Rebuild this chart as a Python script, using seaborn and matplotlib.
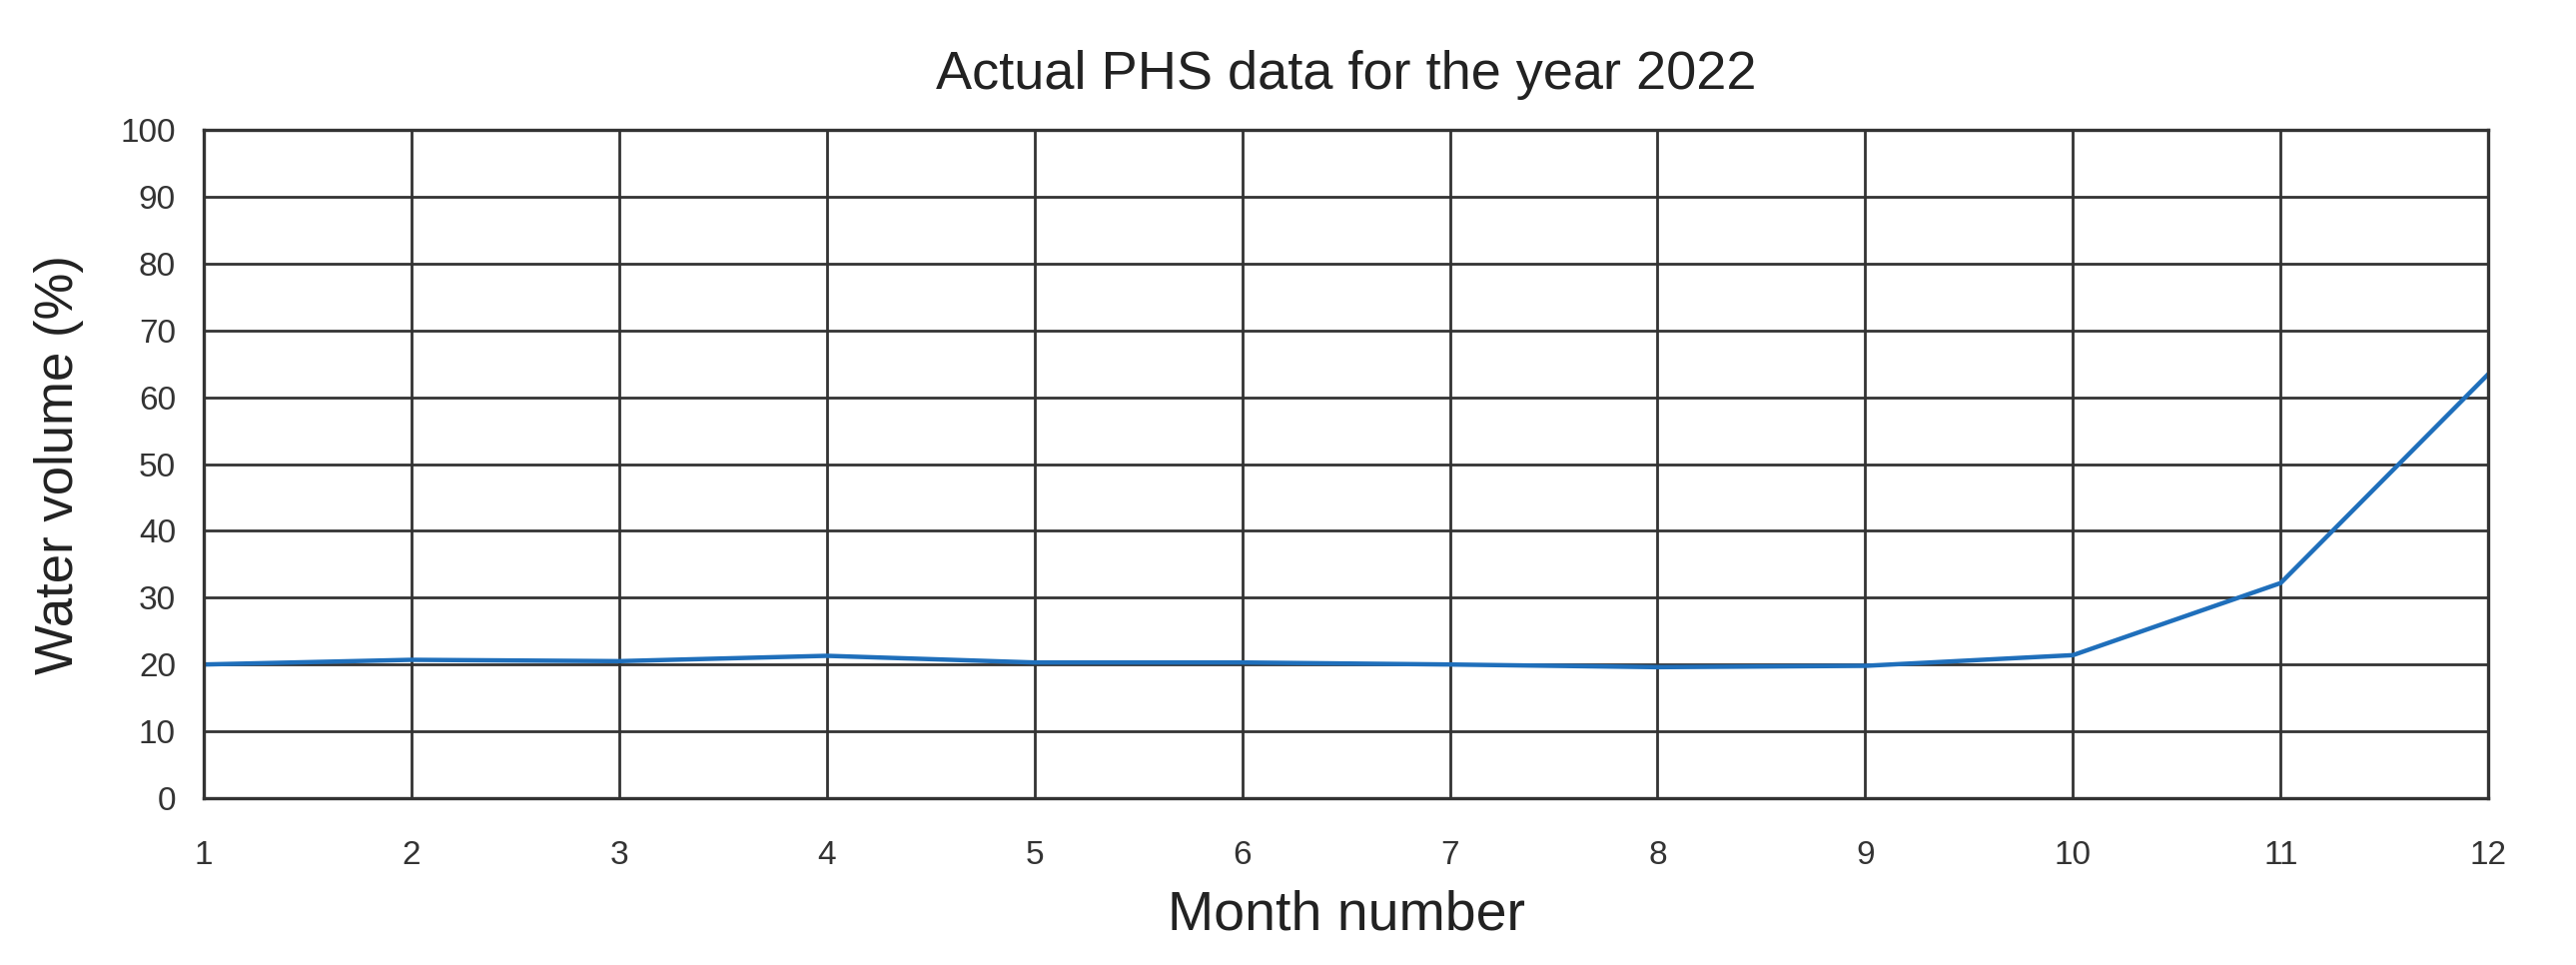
import numpy as np
import pandas as pd
import matplotlib
matplotlib.use('Agg')
import matplotlib.pyplot as plt
import seaborn as sns

# ====================== data ======================
months = [1, 2, 3, 4, 5, 6, 7, 8, 9, 10, 11, 12]
water_volume = [20.0, 20.7, 20.5, 21.3, 20.3, 20.3, 20.0, 19.6, 19.8, 21.4, 32.2, 63.5]
y_ticks = [0, 10, 20, 30, 40, 50, 60, 70, 80, 90, 100]

df = pd.DataFrame({"Month number": months, "Water volume (%)": water_volume})

sns.set_style("white")
plt.rcParams['font.family'] = ['Liberation Sans', 'DejaVu Sans']

fig = plt.figure(figsize=(25.79, 9.66), dpi=100)
ax = fig.add_axes([0.079, 0.173, 0.887, 0.692])

sns.lineplot(data=df, x="Month number", y="Water volume (%)", ax=ax,
             color="#1f6fbb", linewidth=3.2)

ax.set_xlim(1, 12)
ax.set_ylim(0, 100)
ax.set_xticks(months)
ax.set_yticks(y_ticks)
ax.grid(True, color="#333333", linewidth=2.0)
ax.set_axisbelow(True)
for s in ax.spines.values():
    s.set_color("#333333")
    s.set_linewidth(2.4)

narrow = ['Liberation Sans Narrow', 'Liberation Sans', 'DejaVu Sans']
ax.tick_params(axis='both', length=0, colors="#333333")
ax.tick_params(axis='y', pad=20)
ax.tick_params(axis='x', pad=30)
for lab in ax.get_xticklabels() + ax.get_yticklabels():
    lab.set_fontfamily(narrow)
    lab.set_fontsize(24)

ax.set_title("Actual PHS data for the year 2022", fontsize=39, pad=30, color="#222222")
ax.set_xlabel("Month number", fontsize=40, family=narrow, color="#222222", labelpad=14)
ax.set_ylabel("Water volume (%)", fontsize=38, color="#222222", labelpad=26)

fig.savefig("out.png", dpi=100)
